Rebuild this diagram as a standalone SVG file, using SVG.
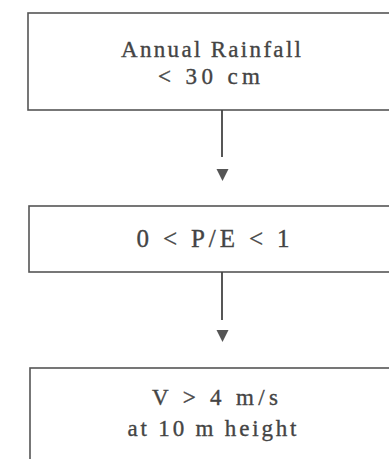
<svg xmlns="http://www.w3.org/2000/svg" width="389" height="459" viewBox="0 0 389 459">
<style>
.box{fill:#fff;stroke:#555;stroke-width:1.6}
.t{font-family:"Liberation Serif","Times New Roman",serif;font-size:25px;fill:#444;stroke:#444;stroke-width:0.35;text-anchor:middle}
.s{font-size:23px}
.c{stroke:#444;stroke-width:1.8;fill:none}
.ah{fill:#555}
</style>
<rect width="389" height="459" fill="#fff"/>
<g id="node-rainfall">
<rect class="box" x="28" y="13" width="380" height="97"/>
<text class="t s" x="211" y="57" textLength="180" lengthAdjust="spacing">Annual Rainfall</text>
<text class="t s" x="209" y="84" textLength="102" lengthAdjust="spacing">&lt; 30 cm</text>
</g>
<g id="node-pe">
<rect class="box" x="29" y="206" width="380" height="66"/>
<text class="t" x="213" y="247" textLength="153" lengthAdjust="spacing">0 &lt; P/E &lt; 1</text>
</g>
<g id="node-wind">
<rect class="box" x="30" y="368" width="380" height="110"/>
<text class="t s" x="215" y="405" textLength="126" lengthAdjust="spacing">V &gt; 4 m/s</text>
<text class="t s" x="212" y="436" textLength="169" lengthAdjust="spacing">at 10 m height</text>
</g>
<g id="connectors">
<line class="c" x1="222" y1="110" x2="222" y2="157"/>
<polygon class="ah" points="216.5,169 228.5,169 222.5,181"/>
<line class="c" x1="222" y1="272" x2="222" y2="320"/>
<polygon class="ah" points="216.5,330 228.5,330 222.5,342"/>
</g>
</svg>
